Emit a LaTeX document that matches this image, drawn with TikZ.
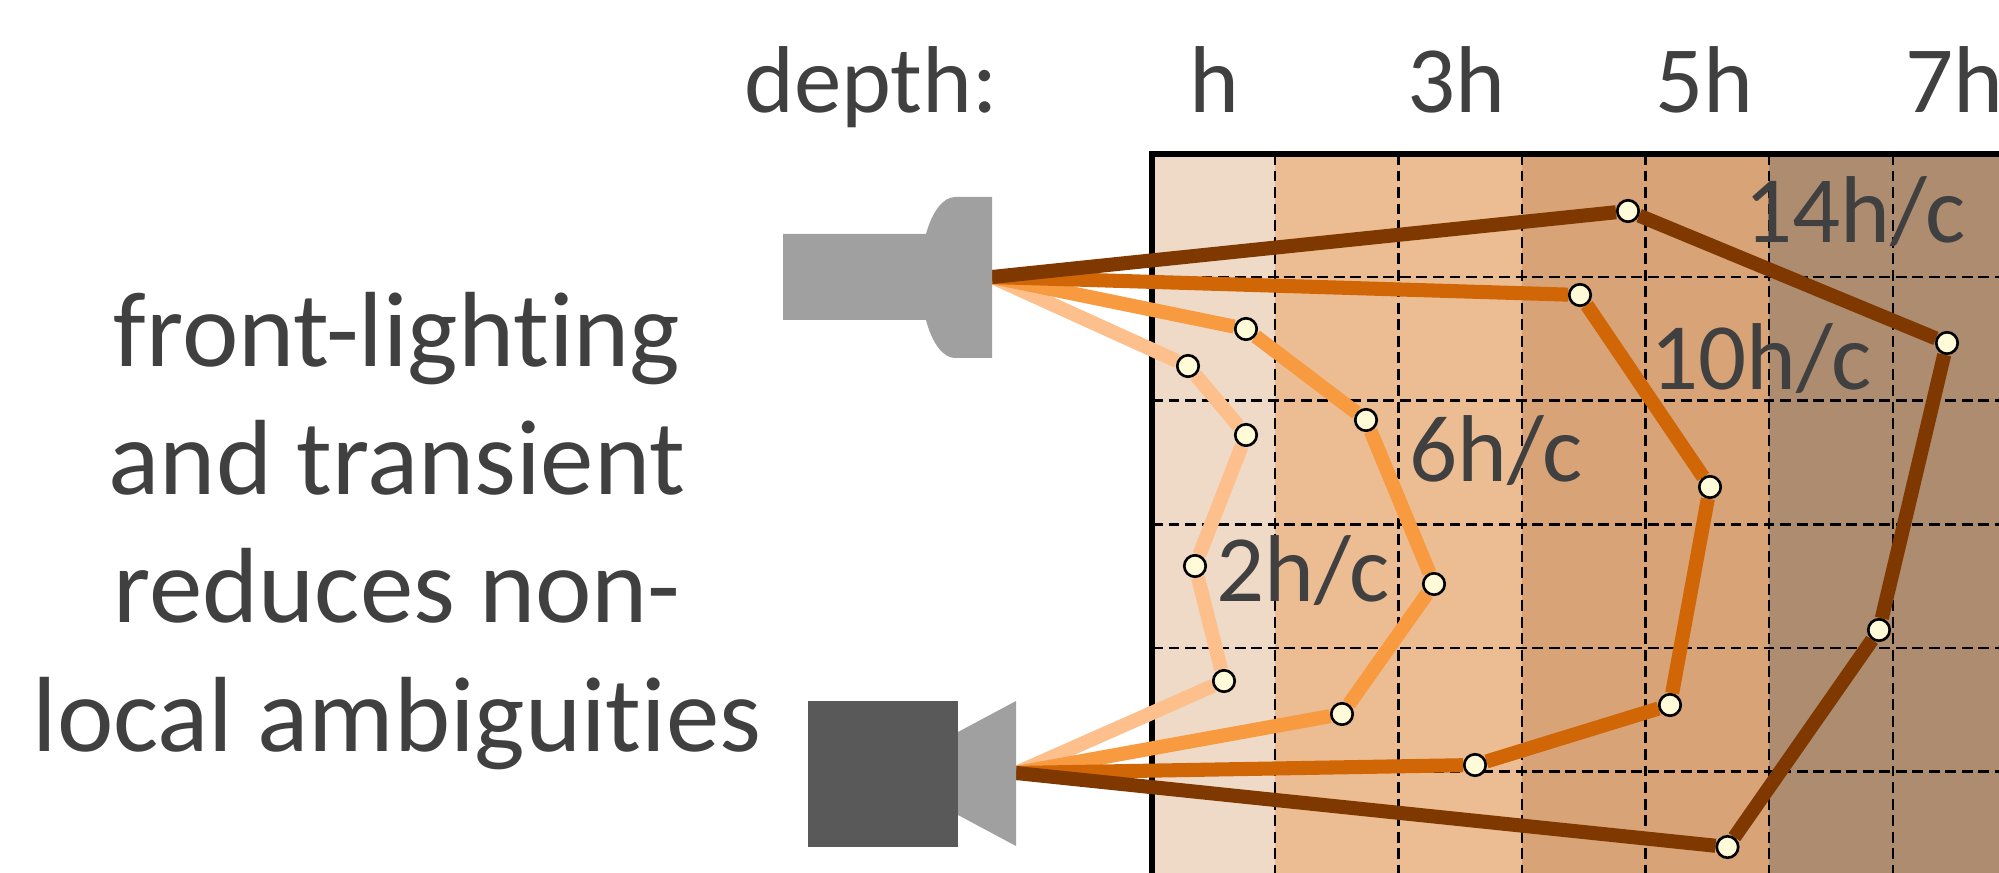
\documentclass[tikz,border=0pt]{standalone}
\usepackage{fontspec}
\setmainfont{Carlito}[Ligatures=NoCommon]
\usetikzlibrary{backgrounds}
\definecolor{txtgray}{HTML}{404040}
\definecolor{lampgray}{HTML}{A0A0A0}
\definecolor{camgray}{HTML}{595959}
\definecolor{bandA}{HTML}{EFDAC8}
\definecolor{bandB}{HTML}{ECBC92}
\definecolor{bandC}{HTML}{D7A377}
\definecolor{bandD}{HTML}{AD8C70}
\definecolor{rayA}{HTML}{FDC08C}
\definecolor{rayB}{HTML}{F79A40}
\definecolor{rayC}{HTML}{D06605}
\definecolor{rayD}{HTML}{7F3900}
\definecolor{dotfill}{HTML}{FFFBD9}
\begin{document}
\begin{tikzpicture}[x=0.01cm,y=-0.01cm,
    dotn/.style={circle,draw=black,fill=dotfill,line width=0.75pt,inner sep=0pt,minimum size=6.1pt},
    ray/.style={line width=4pt},
    griddash/.style={black,line width=0.7pt,dash pattern=on 3.1pt off 1.6pt},
    lbl/.style={text=txtgray,font=\fontsize{27}{32}\selectfont,inner sep=0pt},
    sidelbl/.style={text=txtgray,font=\fontsize{30.4}{36.4}\selectfont,inner sep=0pt,align=center}]
  \useasboundingbox (0,0) rectangle (1999,873);
  \clip (0,0) rectangle (1999,873);
  % ray end points at the two devices
  \coordinate (lamp) at (992,277);
  \coordinate (cam) at (1016,773);
  % wavefront dots
  \foreach \n/\x/\y in {a1/1188/366, a2/1246/435, a3/1195/566, a4/1224/681,
      b1/1246/329, b2/1366/420, b3/1434/584, b4/1342/714,
      c1/1580/295, c2/1710/487, c3/1670/705, c4/1475/765,
      d1/1628/211, d2/1947/343, d3/1879/630, d4/1727.5/847}{
    \node[dotn] (\n) at (\x,\y) {};
  }
  \begin{pgfonlayer}{background}
    % depth bands
    \fill[bandA] (1152,154) rectangle (1275,900);
    \fill[bandB] (1275,154) rectangle (1522,900);
    \fill[bandC] (1522,154) rectangle (1769,900);
    \fill[bandD] (1769,154) rectangle (2020,900);
    % grid
    \foreach \x in {1275,1398.5,1522,1645.5,1769,1893}{
      \draw[griddash] (\x,154) -- (\x,900);
    }
    \foreach \y in {277,400.7,524.4,648,771.7}{
      \draw[griddash] (1152,\y) -- (2020,\y);
    }
    \draw[black,line width=1.6pt] (1152,900) -- (1152,153.7) -- (2020,153.7);
    % rays
    \draw[ray,rayA] (lamp) -- (a1) -- (a2) -- (a3) -- (a4) -- (cam);
    \draw[ray,rayB] (lamp) -- (b1) -- (b2) -- (b3) -- (b4) -- (cam);
    \draw[ray,rayC] (lamp) -- (c1) -- (c2) -- (c3) -- (c4) -- (cam);
    \draw[ray,rayD] (lamp) -- (d1) -- (d2) -- (d3) -- (d4) -- (cam);
  \end{pgfonlayer}
  % light source
  \fill[lampgray] (783,234) -- (926,234) .. controls (932,212) and (943,197) .. (955,197)
    -- (992,197) -- (992,358) -- (955,358) .. controls (943,358) and (932,343) .. (926,320)
    -- (783,320) -- cycle;
  % camera
  \fill[lampgray] (958,732) -- (1016,701) -- (1016,846) -- (958,815) -- cycle;
  \fill[camgray] (808,701) rectangle (958,847);
  % labels
  \node[lbl,anchor=base] (depth) at (871,113) {depth:};
  \foreach \n/\x/\t in {h1/1214.5/h, h3/1456.5/3h, h5/1704/5h, h7/1954/7h}{
    \node[lbl,anchor=base] (\n) at (\x,113) {\t};
  }
  \node[lbl,anchor=base] (t2) at (1303,601.7) {2h/c};
  \node[lbl,anchor=base] (t6) at (1496,481.7) {6h/c};
  \node[lbl,anchor=base] (t10) at (1761,389.3) {10h/c};
  \node[lbl,anchor=base] (t14) at (1855,242.7) {14h/c};
  \node[sidelbl,anchor=base] (side) at (397,751)
    {front-lighting\\and transient\\reduces non-\\local ambiguities};
\end{tikzpicture}
\end{document}
